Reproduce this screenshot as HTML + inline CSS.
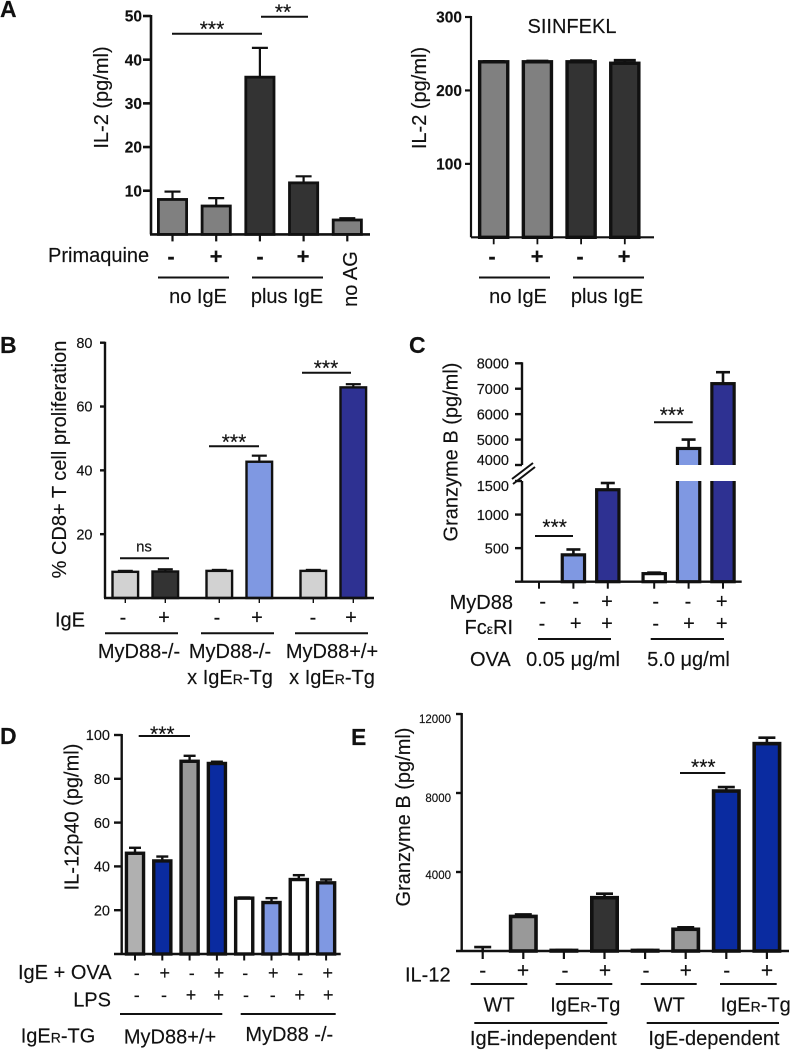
<!DOCTYPE html>
<html lang="en">
<head>
<meta charset="utf-8">
<title>Multi-panel bar charts</title>
<style>
html,body{margin:0;padding:0;background:#fff;}
svg{display:block;font-family:"Liberation Sans",Arial,sans-serif;fill:#111;filter:blur(0.3px);}
text{fill:#111;stroke:#111;stroke-width:0.15px;}
.lb{font-size:23px;font-weight:bold;}
.t20{font-size:20px;}
.tm{font-size:20px;text-anchor:middle;}
.star{font-size:21px;text-anchor:middle;}
.sb{font-size:22px;font-weight:bold;text-anchor:middle;}
.s20{font-size:20px;text-anchor:middle;}
.s18{font-size:18px;text-anchor:middle;}
.s21{font-size:21px;text-anchor:middle;}
.end{text-anchor:end;}
line.sig{stroke:#111;stroke-width:2;}
line.grp{stroke:#111;stroke-width:2;}
</style>
</head>
<body>
<svg id="fig" xmlns="http://www.w3.org/2000/svg" width="791" height="1050" viewBox="0 0 791 1050">
  <rect x="0" y="0" width="791" height="1050" fill="#fff"/>
  <g id="charts"></g>

  <!-- Panel A -->
  <g>
    <text class="lb" x="0" y="17">A</text>
    <text class="tm" transform="rotate(-90 108 97.5)" x="108" y="97.5">IL-2 (pg/ml)</text>
    <line class="sig" x1="172" y1="33.7" x2="262" y2="33.7"/>
    <text class="star" x="212" y="36">***</text>
    <line class="sig" x1="261" y1="16.7" x2="308" y2="16.7"/>
    <text class="star" x="283" y="19">**</text>
    <text class="t20" x="48" y="262">Primaquine</text>
    <text class="sb" x="171" y="264">-</text>
    <text class="sb" x="216" y="264">+</text>
    <text class="sb" x="260" y="264">-</text>
    <text class="sb" x="303" y="264">+</text>
    <line class="grp" x1="158" y1="277.5" x2="229" y2="277.5"/>
    <line class="grp" x1="252" y1="277.5" x2="323" y2="277.5"/>
    <text class="tm" x="198" y="303">no IgE</text>
    <text class="tm" x="287" y="303">plus IgE</text>
    <text class="tm" transform="rotate(-90 357 279)" x="357" y="279">no AG</text>
  </g>

  <!-- Panel A2 -->
  <g>
    <text class="tm" transform="rotate(-90 426 98)" x="426" y="98">IL-2 (pg/ml)</text>
    <text class="tm" x="572" y="33">SIINFEKL</text>
    <text class="sb" x="492" y="264">-</text>
    <text class="sb" x="537" y="264">+</text>
    <text class="sb" x="580" y="264">-</text>
    <text class="sb" x="624" y="264">+</text>
    <line class="grp" x1="479" y1="277.5" x2="550" y2="277.5"/>
    <line class="grp" x1="573" y1="277.5" x2="644" y2="277.5"/>
    <text class="tm" x="518" y="303">no IgE</text>
    <text class="tm" x="607" y="303">plus IgE</text>
  </g>

  <!-- Panel B -->
  <g>
    <text class="lb" x="0" y="353">B</text>
    <text class="tm" transform="rotate(-90 66 459.5)" x="66" y="459.5">% CD8+ T cell proliferation</text>
    <line class="sig" x1="120" y1="558.3" x2="169" y2="558.3"/>
    <text x="144" y="551.7" font-size="15" text-anchor="middle">ns</text>
    <line class="sig" x1="209" y1="446.3" x2="259" y2="446.3"/>
    <text class="star" x="234" y="449">***</text>
    <line class="sig" x1="302" y1="372.7" x2="351" y2="372.7"/>
    <text class="star" x="326" y="375">***</text>
    <text class="t20" x="55" y="626.7">IgE</text>
    <text class="s20" x="123" y="624">-</text>
    <text class="s20" x="164" y="624">+</text>
    <text class="s20" x="217" y="624">-</text>
    <text class="s20" x="257" y="624">+</text>
    <text class="s20" x="313" y="624">-</text>
    <text class="s20" x="351" y="624">+</text>
    <line class="grp" x1="105" y1="633.3" x2="178" y2="633.3"/>
    <line class="grp" x1="201" y1="633.3" x2="274" y2="633.3"/>
    <line class="grp" x1="295" y1="633.3" x2="368" y2="633.3"/>
    <text class="tm" x="139" y="658">MyD88-/-</text>
    <text class="tm" x="230" y="658">MyD88-/-</text>
    <text class="tm" x="332" y="658">MyD88+/+</text>
    <text class="tm" x="230" y="684">x IgE<tspan font-size="14">R</tspan>-Tg</text>
    <text class="tm" x="332" y="684">x IgE<tspan font-size="14">R</tspan>-Tg</text>
  </g>

  <!-- Panel C -->
  <g>
    <text class="lb" x="409" y="353">C</text>
    <text class="tm" transform="rotate(-90 457.7 452)" x="457.7" y="452">Granzyme B (pg/ml)</text>
    <line class="sig" x1="535" y1="536" x2="573" y2="536"/>
    <text class="star" x="554.7" y="534">***</text>
    <line class="sig" x1="654" y1="422.3" x2="692.7" y2="422.3"/>
    <text class="star" x="672" y="422">***</text>
    <text class="t20 end" x="513" y="609">MyD88</text>
    <text class="t20 end" x="513" y="634">Fc<tspan font-size="14">ε</tspan>RI</text>
    <text class="s20" x="542.7" y="608">-</text>
    <text class="s20" x="575.7" y="608">-</text>
    <text class="s20" x="607" y="608">+</text>
    <text class="s20" x="655.7" y="608">-</text>
    <text class="s20" x="688" y="608">-</text>
    <text class="s20" x="721.7" y="608">+</text>
    <text class="s20" x="542" y="630">-</text>
    <text class="s20" x="575.7" y="630">+</text>
    <text class="s20" x="607" y="630">+</text>
    <text class="s20" x="655.7" y="630">-</text>
    <text class="s20" x="689" y="630">+</text>
    <text class="s20" x="721.7" y="630">+</text>
    <line class="grp" x1="538" y1="639" x2="611" y2="639"/>
    <line class="grp" x1="650.7" y1="639" x2="724" y2="639"/>
    <text class="t20" x="470" y="666">OVA</text>
    <text class="tm" x="573" y="666">0.05 μg/ml</text>
    <text class="tm" x="688.5" y="666">5.0 μg/ml</text>
  </g>

  <!-- Panel D -->
  <g>
    <text class="lb" x="0" y="744">D</text>
    <text class="tm" transform="rotate(-90 78.3 817)" x="78.3" y="817">IL-12p40 (pg/ml)</text>
    <line class="sig" x1="138.7" y1="736" x2="190" y2="736"/>
    <text class="star" x="162.3" y="741">***</text>
    <text class="t20" x="18" y="979">IgE + OVA</text>
    <text class="t20 end" x="111" y="1006.7">LPS</text>
    <text class="s18" x="136.7" y="979">-</text>
    <text class="s18" x="164.7" y="979">+</text>
    <text class="s18" x="191.7" y="979">-</text>
    <text class="s18" x="219" y="979">+</text>
    <text class="s18" x="245.3" y="979">-</text>
    <text class="s18" x="273.3" y="979">+</text>
    <text class="s18" x="300.3" y="979">-</text>
    <text class="s18" x="327.7" y="979">+</text>
    <text class="s18" x="136.7" y="1001">-</text>
    <text class="s18" x="164" y="1001">-</text>
    <text class="s18" x="191" y="1001">+</text>
    <text class="s18" x="218.7" y="1001">+</text>
    <text class="s18" x="246" y="1001">-</text>
    <text class="s18" x="272.7" y="1001">-</text>
    <text class="s18" x="299.7" y="1001">+</text>
    <text class="s18" x="328.3" y="1001">+</text>
    <line class="grp" x1="120" y1="1014" x2="222.3" y2="1014"/>
    <line class="grp" x1="240.7" y1="1014" x2="335.7" y2="1014"/>
    <text class="t20" x="20.7" y="1042.7">IgE<tspan font-size="14">R</tspan>-TG</text>
    <text class="tm" x="170" y="1043.3">MyD88+/+</text>
    <text class="tm" x="289.3" y="1041">MyD88 -/-</text>
  </g>

  <!-- Panel E -->
  <g>
    <text class="lb" x="351" y="745">E</text>
    <text class="tm" transform="rotate(-90 410 817)" x="410" y="817">Granzyme B (pg/ml)</text>
    <line class="sig" x1="680" y1="773" x2="725.3" y2="773"/>
    <text class="star" x="703.3" y="774">***</text>
    <text class="t20" x="405" y="981.7">IL-12</text>
    <text class="s21" x="482.7" y="977.5">-</text>
    <text class="s21" x="523" y="977.5">+</text>
    <text class="s21" x="565" y="977.5">-</text>
    <text class="s21" x="605" y="977.5">+</text>
    <text class="s21" x="646" y="977.5">-</text>
    <text class="s21" x="685.7" y="977.5">+</text>
    <text class="s21" x="726.7" y="977.5">-</text>
    <text class="s21" x="767" y="977.5">+</text>
    <line class="grp" x1="470.7" y1="984" x2="527.3" y2="984"/>
    <line class="grp" x1="555.7" y1="984" x2="612.3" y2="984"/>
    <line class="grp" x1="640.7" y1="984" x2="696.7" y2="984"/>
    <line class="grp" x1="720" y1="984" x2="776.7" y2="984"/>
    <text class="tm" x="499" y="1011.7">WT</text>
    <text class="tm" x="585.3" y="1011.7">IgE<tspan font-size="14">R</tspan>-Tg</text>
    <text class="tm" x="669.3" y="1011.7">WT</text>
    <text class="tm" x="755.7" y="1011.7">IgE<tspan font-size="14">R</tspan>-Tg</text>
    <line class="grp" x1="474.3" y1="1023" x2="607.3" y2="1023"/>
    <line class="grp" x1="646.7" y1="1023" x2="779" y2="1023"/>
    <text class="tm" x="543.3" y="1045">IgE-independent</text>
    <text class="tm" x="714" y="1045">IgE-dependent</text>
  </g>
</svg>

<script>
// Panel A (IL-2)
const aCategories = ['noIgE-', 'noIgE+', 'plusIgE-', 'plusIgE+', 'noAG'];
const aValues = [8, 6.5, 36, 11.8, 3.3];
const aErrorTops = [9.8, 8.3, 42.7, 13.3, 3.7];
const aTicks = [10, 20, 30, 40, 50];
const aTickLabels = ['10', '20', '30', '40', '50'];
// Panel A right (SIINFEKL)
const a2Categories = ['noIgE-', 'noIgE+', 'plusIgE-', 'plusIgE+'];
const a2Values = [239, 239, 239, 237];
const a2ErrorTops = [239.5, 240, 240.5, 241];
const a2Ticks = [100, 200, 300];
const a2TickLabels = ['100', '200', '300'];
// Panel B
const bCategories = ['ko-', 'ko+', 'koTg-', 'koTg+', 'wtTg-', 'wtTg+'];
const bValues = [8.2, 8.3, 8.5, 42.7, 8.5, 66];
const bErrorTops = [8.5, 9, 8.8, 44.6, 8.8, 67];
const bTicks = [20, 40, 60, 80];
const bTickLabels = ['20', '40', '60', '80'];
// Panel C
const cCategories = ['low--', 'low-+', 'low++', 'high--', 'high-+', 'high++'];
const cValues = [0, 400, 1370, 120, 4650, 7200];
const cErrorTops = [0, 480, 1470, 135, 5000, 7650];
const cTicks = [500, 1000, 1500, 4000, 5000, 6000, 7000, 8000];
const cTickLabels = ['500', '1000', '1500', '4000', '5000', '6000', '7000', '8000'];
// Panel D
const dCategories = ['wt--', 'wt+-', 'wt-+', 'wt++', 'ko--', 'ko+-', 'ko-+', 'ko++'];
const dValues = [46, 42.5, 88, 87, 25.5, 23.5, 34, 32.5];
const dErrorTops = [48.5, 44.5, 90.5, 87.8, 25.8, 25.5, 36, 34];
const dTicks = [20, 40, 60, 80, 100];
const dTickLabels = ['20', '40', '60', '80', '100'];
// Panel E
const eCategories = ['indWT-', 'indWT+', 'indTg-', 'indTg+', 'depWT-', 'depWT+', 'depTg-', 'depTg+'];
const eValues = [0, 1750, 30, 2700, 30, 1100, 8100, 10500];
const eErrorTops = [200, 1850, 50, 2900, 50, 1200, 8300, 10800];
const eTicks = [4000, 8000, 12000];
const eTickLabels = ['4000', '8000', '12000'];

const NS = 'http://www.w3.org/2000/svg';
const root = document.getElementById('charts');

function svgEl(tag, attrs, parent) {
  const el = document.createElementNS(NS, tag);
  for (const k in attrs) el.setAttribute(k, attrs[k]);
  parent.appendChild(el);
  return el;
}
function linearScale(d0, d1, r0, r1) {
  return function (v) { return r0 + (v - d0) * (r1 - r0) / (d1 - d0); };
}
function bandCenter(c, i) {
  return c.x0 + c.step * i + c.groupGap * Math.floor(i / c.groupSize);
}

function drawChart(c) {
  const g = svgEl('g', {}, root);
  
  

  c.categories.forEach(function (cat, i) {
    const cx = bandCenter(c, i);
    const v = c.values[i];
    const top = c.errorTops[i];
    const yv = c.y(v);
    if (top > 0) {
      const stem = svgEl('line', {x1: cx, x2: cx, y1: yv, y2: c.y(top), stroke: '#111', 'stroke-width': c.errW}, g);
      
      
      const cap = svgEl('line', {x1: cx - c.capW / 2, x2: cx + c.capW / 2, y1: c.y(top), y2: c.y(top), stroke: '#111', 'stroke-width': c.errW}, g);
      
      
    }
    if (v > 0) {
      const bar = svgEl('rect', {
        x: cx - c.barW / 2 + c.sw / 2,
        y: yv,
        width: c.barW - c.sw,
        height: Math.max(0, c.base - yv),
        fill: c.fills[i],
        stroke: '#111',
        'stroke-width': c.sw
      }, g);
      
      
    }
    const mark = svgEl('line', {x1: cx, x2: cx, y1: c.base, y2: c.base + c.tickLen, stroke: '#111', 'stroke-width': c.xTickW}, g);
    
    
  });

  if (c.gap) {
    const white = svgEl('rect', {x: c.axisX + 2, y: c.gap[0], width: c.right - c.axisX, height: c.gap[1] - c.gap[0], fill: '#fff'}, g);
    
    
    const axisUp = svgEl('line', {x1: c.axisX, x2: c.axisX, y1: c.y(c.ticks[c.ticks.length - 1]) - 1, y2: c.gap[0], stroke: '#111', 'stroke-width': c.axisW}, g);
    
    
    const axisLow = svgEl('line', {x1: c.axisX, x2: c.axisX, y1: c.gap[1], y2: c.base, stroke: '#111', 'stroke-width': c.axisW}, g);
    
    
    const slashA = svgEl('line', {x1: c.axisX - 10, x2: c.axisX + 11, y1: c.gap[0] + 14, y2: c.gap[0] - 2, stroke: '#111', 'stroke-width': 2}, g);
    
    
    const slashB = svgEl('line', {x1: c.axisX - 9, x2: c.axisX + 13, y1: c.gap[0] + 19, y2: c.gap[0] + 2, stroke: '#111', 'stroke-width': 2}, g);
    
    
  } else {
    const axisY = svgEl('line', {x1: c.axisX, x2: c.axisX, y1: c.y(c.ticks[c.ticks.length - 1]) - 1, y2: c.base, stroke: '#111', 'stroke-width': c.axisW}, g);
    
    
  }
  const axisX = svgEl('line', {x1: c.left, x2: c.right, y1: c.base, y2: c.base, stroke: '#111', 'stroke-width': c.axisW}, g);
  
  

  c.ticks.forEach(function (t, i) {
    const ty = c.y(t);
    const tk = svgEl('line', {x1: c.axisX - c.yTickLen, x2: c.axisX, y1: ty, y2: ty, stroke: '#111', 'stroke-width': c.axisW}, g);
    
    
    const lab = svgEl('text', {
      x: c.labelX,
      y: ty + c.fontSize * 0.36 + c.labelDy(t),
      'text-anchor': 'end',
      'font-size': c.fontSize,
      'font-weight': c.fontWeight
    }, g);
    
    
    lab.textContent = c.tickLabels[i];
  });
}

const GREY = '#808080', DARK = '#333333', LIGHT = '#d2d2d2', SKY = '#7f98e2', NAVY = '#2e3192', ROYAL = '#0a2ba0', MID = '#999999';

drawChart({
  name: 'chart-a', categories: aCategories, values: aValues, errorTops: aErrorTops,
  ticks: aTicks, tickLabels: aTickLabels, y: linearScale(0, 50, 234.4, 16),
  x0: 172.5, step: 43.7, groupSize: 99, groupGap: 0, barW: 31, sw: 2.8, capW: 16, errW: 2.2,
  fills: [GREY, GREY, DARK, DARK, GREY], axisX: 151, base: 234.4, left: 150, right: 370,
  tickLen: 7, xTickW: 2.2, axisW: 2.6, yTickLen: 8, labelX: 142, fontSize: 15.5, fontWeight: 'bold',
  labelDy: function () { return 0; }
});
drawChart({
  name: 'chart-a-siinfekl', categories: a2Categories, values: a2Values, errorTops: a2ErrorTops,
  ticks: a2Ticks, tickLabels: a2TickLabels, y: linearScale(0, 300, 237.3, 17),
  x0: 493.7, step: 43.7, groupSize: 99, groupGap: 0, barW: 31.5, sw: 3.4, capW: 22, errW: 2.8,
  fills: [GREY, GREY, DARK, DARK], axisX: 471, base: 237.3, left: 471, right: 654,
  tickLen: 7, xTickW: 1.8, axisW: 2.2, yTickLen: 6, labelX: 462, fontSize: 15.5, fontWeight: 'bold',
  labelDy: function () { return 0; }
});
drawChart({
  name: 'chart-b', categories: bCategories, values: bValues, errorTops: bErrorTops,
  ticks: bTicks, tickLabels: bTickLabels, y: linearScale(0, 80, 598, 342.7),
  x0: 125.3, step: 40, groupSize: 2, groupGap: 14, barW: 28, sw: 2.4, capW: 15, errW: 2.2,
  fills: [LIGHT, DARK, LIGHT, SKY, LIGHT, NAVY], axisX: 105, base: 598, left: 104, right: 374,
  tickLen: 5, xTickW: 1.4, axisW: 2.4, yTickLen: 5, labelX: 92.5, fontSize: 14.5, fontWeight: 'normal',
  labelDy: function () { return 0; }
});
const cLower = linearScale(0, 1500, 581.7, 481);
const cUpper = linearScale(4000, 8000, 465, 363.3);
drawChart({
  name: 'chart-c', categories: cCategories, values: cValues, errorTops: cErrorTops,
  ticks: cTicks, tickLabels: cTickLabels,
  y: function (v) { return v <= 1500 ? cLower(v) : (v >= 4000 ? cUpper(v) : linearScale(1500, 4000, 481, 465)(v)); },
  x0: 539, step: 34.4, groupSize: 3, groupGap: 12, barW: 25.5, sw: 3.2, capW: 14, errW: 2.6,
  fills: [ '#ffffff', SKY, NAVY, '#ffffff', SKY, NAVY], axisX: 522, base: 581.7, left: 515, right: 741.7,
  tickLen: 7, xTickW: 2, axisW: 2.4, yTickLen: 7, labelX: 509, fontSize: 14.5, fontWeight: 'normal',
  gap: [465, 481],
  labelDy: function (t) { return t === 4000 ? -5 : (t === 1500 ? 5 : 0); }
});
drawChart({
  name: 'chart-d', categories: dCategories, values: dValues, errorTops: dErrorTops,
  ticks: dTicks, tickLabels: dTickLabels, y: linearScale(0, 100, 954, 735),
  x0: 135, step: 27.3, groupSize: 99, groupGap: 0, barW: 20.5, sw: 3.4, capW: 12, errW: 2.4,
  fills: ['#b0b0b0', ROYAL, MID, ROYAL, '#ffffff', SKY, '#ffffff', SKY], axisX: 121.7, base: 954, left: 114, right: 340.7,
  tickLen: 6.5, xTickW: 2, axisW: 2.4, yTickLen: 7.7, labelX: 110, fontSize: 14.5, fontWeight: 'normal',
  labelDy: function () { return 0; }
});
drawChart({
  name: 'chart-e', categories: eCategories, values: eValues, errorTops: eErrorTops,
  ticks: eTicks, tickLabels: eTickLabels, y: linearScale(0, 12000, 951, 714),
  x0: 482.7, step: 40.6, groupSize: 99, groupGap: 0, barW: 29, sw: 3.6, capW: 17, errW: 2.6,
  fills: ['#ffffff', MID, DARK, DARK, MID, MID, ROYAL, ROYAL], axisX: 461.7, base: 951, left: 456, right: 789,
  tickLen: 8, xTickW: 2.2, axisW: 2.4, yTickLen: 5.7, labelX: 451, fontSize: 11.5, fontWeight: 'normal',
  labelDy: function (t) { return t === 4000 ? 3 : 5; }
});
</script>
</body>
</html>
